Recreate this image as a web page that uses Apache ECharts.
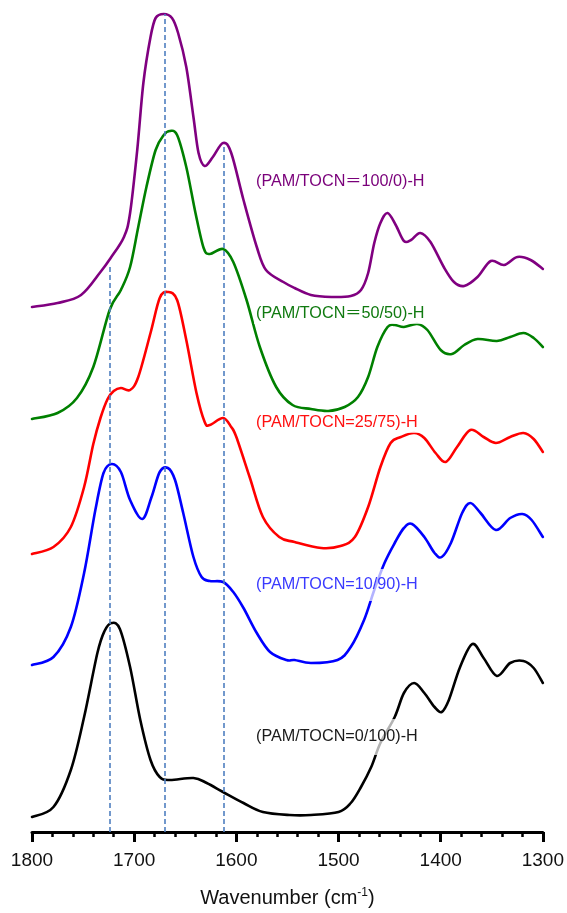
<!DOCTYPE html>
<html>
<head>
<meta charset="utf-8">
<title>FTIR spectra</title>
<script src="https://cdn.jsdelivr.net/npm/echarts@6/dist/echarts.min.js"></script>
<style>
  html, body { margin: 0; padding: 0; background: #fff; }
  #chart { width: 567px; height: 913px; }
</style>
</head>
<body>
<div id="chart"></div>
<script>
// FTIR spectra (1800–1300 cm-1), stacked with vertical offsets (a.u.)
const seriesNames = [
  '(PAM/TOCN\uFF1D100/0)-H',
  '(PAM/TOCN\uFF1D50/50)-H',
  '(PAM/TOCN=25/75)-H',
  '(PAM/TOCN=10/90)-H',
  '(PAM/TOCN=0/100)-H'
];

const pam100 = [
  [1800,513],[1775,517],[1752,525],[1733,548],[1723,562],[1710,583],[1704,607],
  [1697,670],[1691,737],[1684,783],[1679,802],[1671,806],[1663,802],[1657,787],
  [1649,753],[1642,703],[1637,667],[1631,654],[1623,663],[1613,677],[1605,667],
  [1593,620],[1580,573],[1571,550],[1554,538],[1543,532],[1527,525],[1507,523],
  [1488,524],[1478,530],[1471,547],[1465,577],[1459,597],[1452,607],[1444,595],
  [1436,579],[1429,580],[1420,587],[1410,578],[1397,553],[1387,538],[1377,534],
  [1364,543],[1351,559],[1338,555],[1325,563],[1312,560],[1300,551]
];

const pam50 = [
  [1800,401],[1775,407],[1756,422],[1740,453],[1724,510],[1713,530],[1704,553],
  [1696,593],[1688,633],[1679,670],[1671,685],[1665,689],[1658,685],[1649,653],
  [1640,607],[1632,572],[1626,566],[1613,571],[1603,558],[1590,520],[1577,473],
  [1561,433],[1545,415],[1527,411],[1510,409],[1494,413],[1481,423],[1471,443],
  [1462,473],[1452,493],[1445,495],[1436,493],[1423,496],[1413,490],[1400,470],
  [1389,466],[1377,475],[1364,481],[1345,479],[1332,483],[1319,487],[1309,482],
  [1300,473]
];

const pam25 = [
  [1800,266],[1779,273],[1762,293],[1749,333],[1740,376],[1733,402],[1726,421],
  [1720,429],[1713,432],[1704,430],[1696,443],[1684,487],[1675,522],[1667,528],
  [1658,520],[1649,480],[1639,427],[1631,398],[1626,395],[1613,402],[1605,393],
  [1600,383],[1587,343],[1574,303],[1558,283],[1543,278],[1517,272],[1498,274],
  [1484,283],[1471,313],[1459,353],[1449,377],[1439,383],[1426,387],[1416,382],
  [1405,367],[1395,358],[1384,373],[1371,390],[1358,383],[1346,377],[1332,383],
  [1319,387],[1309,381],[1300,368]
];

const pam10 = [
  [1800,155],[1779,163],[1762,193],[1749,247],[1738,310],[1730,347],[1722,356],
  [1713,348],[1704,320],[1692,301],[1683,323],[1675,348],[1667,352],[1660,340],
  [1652,307],[1642,263],[1634,243],[1626,239],[1613,238],[1603,228],[1593,212],
  [1580,187],[1567,168],[1551,160],[1543,160],[1527,157],[1501,160],[1488,173],
  [1475,200],[1465,230],[1455,257],[1445,277],[1436,292],[1428,296],[1416,283],
  [1406,267],[1399,263],[1390,277],[1379,307],[1371,317],[1361,307],[1346,290],
  [1332,302],[1320,306],[1311,300],[1300,283]
];

const pam0 = [
  [1800,3],[1779,13],[1762,50],[1749,103],[1736,167],[1729,189],[1722,197],
  [1714,191],[1704,153],[1694,100],[1684,60],[1675,43],[1665,40],[1642,42],
  [1629,37],[1613,28],[1593,17],[1574,8],[1548,5],[1527,5],[1500,8],[1488,17],
  [1478,33],[1468,53],[1459,77],[1445,103],[1436,127],[1426,137],[1416,127],
  [1406,113],[1399,108],[1392,120],[1381,153],[1369,176],[1358,162],[1345,144],
  [1332,157],[1319,159],[1309,152],[1300,137]
];

// band positions marked with dashed guides and the height each guide reaches
const bandWavenumbers = [1724, 1670, 1612];
const bandTops = [556, 806, 673];

const xTicks = [1800, 1700, 1600, 1500, 1400, 1300];

const colors = ['#800080', '#008000', '#ff0000', '#0000ff', '#000000'];
const labelColors = ['#7a007a', '#107a10', '#ff1010', '#3a3aff', '#1a1a1a'];
const labelY = [182, 314, 423, 585, 737];
const labelPad = [[2, 2], [2, 2], [2, 2], [8, 2], [10, 2]];

const chart = echarts.init(document.getElementById('chart'), null, { renderer: 'canvas' });

const allData = [pam100, pam50, pam25, pam10, pam0];

// Spectrum drawn as a Catmull-Rom spline through the points, mapped by the axes
function spectrumSeries(name, data, color) {
  return {
    name: name,
    type: 'custom',
    coordinateSystem: 'cartesian2d',
    data: data,
    encode: { x: 0, y: 1 },
    z: 3,
    animation: false,
    renderItem: function (params, api) {
      if (params.dataIndex !== 0) return null;
      const pts = data.map(p => api.coord(p));
      const n = pts.length;
      let d = 'M' + pts[0][0] + ',' + pts[0][1];
      for (let i = 0; i < n - 1; i++) {
        const p0 = pts[Math.max(i - 1, 0)];
        const p1 = pts[i];
        const p2 = pts[i + 1];
        const p3 = pts[Math.min(i + 2, n - 1)];
        const c1x = p1[0] + (p2[0] - p0[0]) / 6;
        const c1y = p1[1] + (p2[1] - p0[1]) / 6;
        const c2x = p2[0] - (p3[0] - p1[0]) / 6;
        const c2y = p2[1] - (p3[1] - p1[1]) / 6;
        d += ' C' + c1x + ',' + c1y + ' ' + c2x + ',' + c2y + ' ' + p2[0] + ',' + p2[1];
      }
      return {
        type: 'path',
        shape: { pathData: d },
        style: { stroke: color, fill: 'none', lineWidth: 2.6, lineJoin: 'round', lineCap: 'round' }
      };
    }
  };
}

const series = allData.map((d, i) => spectrumSeries(seriesNames[i], d, colors[i]));

series.push({
  name: 'bands',
  type: 'line',
  data: [],
  symbol: 'none',
  z: 4,
  animation: false,
  markLine: {
    silent: true,
    symbol: ['none', 'none'],
    label: { show: false },
    lineStyle: { color: '#4f7fc0', width: 1.6, type: [5, 3] },
    data: bandWavenumbers.map((w, i) => [
      { coord: [w, -12] },
      { coord: [w, bandTops[i]] }
    ])
  }
});

const option = {
  backgroundColor: '#ffffff',
  animation: false,
  grid: { left: 32, right: 20, top: 0, bottom: 81, containLabel: false },
  xAxis: {
    type: 'value',
    inverse: true,
    min: 1300,
    max: 1800,
    interval: 100,
    name: 'Wavenumber (cm{sup|-1})',
    nameLocation: 'middle',
    nameGap: 55,
    nameTextStyle: {
      fontFamily: 'Liberation Sans, Arial, sans-serif',
      fontSize: 20,
      color: '#111',
      rich: {
        sup: {
          fontFamily: 'Liberation Sans, Arial, sans-serif',
          fontSize: 12,
          color: '#111',
          verticalAlign: 'bottom',
          padding: [0, 0, 10, 0]
        }
      }
    },
    axisLine: { show: true, onZero: false, lineStyle: { color: '#000', width: 3 } },
    axisTick: { show: true, inside: false, length: 10, lineStyle: { color: '#000', width: 3 } },
    minorTick: { show: true, splitNumber: 5, length: 5, lineStyle: { color: '#000', width: 2.5 } },
    axisLabel: {
      margin: 19,
      fontFamily: 'Liberation Sans, Arial, sans-serif',
      fontSize: 19,
      color: '#111',
      formatter: v => (xTicks.indexOf(v) >= 0 ? String(v) : '')
    },
    splitLine: { show: false }
  },
  yAxis: {
    type: 'value',
    min: -12,
    max: 820,
    show: false,
    splitLine: { show: false }
  },
  series: series,
  graphic: seriesNames.map((n, i) => ({
    type: 'text',
    x: 254,
    y: labelY[i],
    z: 100,
    style: {
      text: n,
      fill: labelColors[i],
      fontFamily: 'Liberation Sans, Arial, "Noto Sans CJK SC", sans-serif',
      fontSize: 16.2,
      verticalAlign: 'middle',
      align: 'left',
      backgroundColor: 'rgba(255,255,255,0.7)',
      padding: labelPad[i]
    }
  }))
};

chart.setOption(option);
</script>
</body>
</html>
